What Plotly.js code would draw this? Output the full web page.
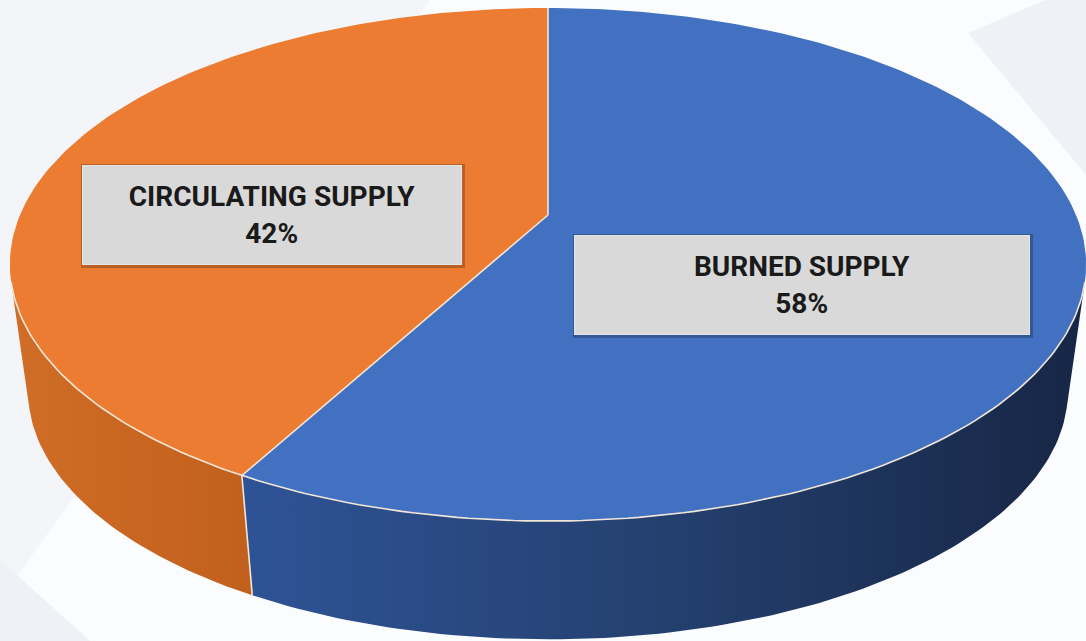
<!DOCTYPE html>
<html>
<head>
<meta charset="utf-8">
<script src="https://cdn.plot.ly/plotly-3.0.1.min.js"></script>
<style>html,body{margin:0;padding:0;background:#fff;}#chart{width:1086px;height:641px;}</style>
</head>
<body>
<div id="chart"></div>
<script>
// ---- data (clockwise from 12 o'clock) ----
const labels = ['BURNED SUPPLY', 'CIRCULATING SUPPLY'];
const values = [58, 42];
const topColors = ['#4371c1', '#ec7c31'];
const wallScales = [
  [[0, '#2e5396'], [0.5, '#24406f'], [1, '#172645']],
  [[0, '#d06d26'], [1, '#c1601d']]
];

// ---- projection of a tilted cylinder (perspective) ----
const CX = 548, AY = 215, R = 528, B = 247, K = 0.193;
const VY = 4000, F = 0.966;   // vertical vanishing point and bottom-face scale
function proj(phiDeg, bottom) {
  const p = phiDeg * Math.PI / 180;
  const u = Math.sin(p), v = -Math.cos(p);
  const s = 1 / (1 - K * v);
  let x = CX + R * u * s, y = AY + B * v * s;
  if (bottom) { x = CX + (x - CX) * F; y = VY + (y - VY) * F; }
  return [x, y];
}
function arc(a0, a1, bottom) {
  const n = Math.max(2, Math.ceil(Math.abs(a1 - a0)));
  const xs = [], ys = [];
  for (let i = 0; i <= n; i++) {
    const [x, y] = proj(a0 + (a1 - a0) * i / n, bottom);
    xs.push(x); ys.push(y);
  }
  return [xs, ys];
}
// silhouette: tangent from the vanishing point
function tangent(lo, hi) {
  let best = lo, bv = -1;
  for (let a = lo; a <= hi; a += 0.1) {
    const [x, y] = proj(a, false);
    const r = Math.abs(x - CX) / (VY - y);
    if (r > bv) { bv = r; best = a; }
  }
  return best;
}
const phiR = tangent(0, 180);
const phiL = tangent(180, 360);

const total = values.reduce((a, b) => a + b, 0);
const bounds = [];
let acc = 0;
values.forEach(v => { const a0 = acc / total * 360; acc += v; bounds.push([a0, acc / total * 360]); });

const traces = [];
// side walls
bounds.forEach(([a0, a1], i) => {
  const s0 = Math.max(a0, phiR), s1 = Math.min(a1, phiL);
  if (s1 <= s0) return;
  const [tx, ty] = arc(s0, s1, false);
  const [bx, by] = arc(s1, s0, true);
  traces.push({
    type: 'scatter', mode: 'lines', x: tx.concat(bx), y: ty.concat(by),
    fill: 'toself', line: {width: 0, color: wallScales[i][0][1]},
    fillgradient: {type: 'horizontal', colorscale: wallScales[i]},
    hoverinfo: 'skip', showlegend: false
  });
});
// top faces
bounds.forEach(([a0, a1], i) => {
  const [ax, ay] = arc(a0, a1, false);
  traces.push({
    type: 'scatter', mode: 'lines', x: [CX].concat(ax, [CX]), y: [AY].concat(ay, [AY]),
    fill: 'toself', fillcolor: topColors[i], line: {width: 0, color: topColors[i]},
    hoverinfo: 'skip', showlegend: false
  });
});
// edge highlights
const edge = {color: '#f2e6d8', width: 1.6};
const [rx, ry] = arc(phiR, phiL, false);
traces.push({type: 'scatter', mode: 'lines', x: rx, y: ry, line: edge, hoverinfo: 'skip', showlegend: false});
bounds.forEach(([a0]) => {
  const [px, py] = proj(a0, false);
  traces.push({type: 'scatter', mode: 'lines', x: [CX, px], y: [AY, py], line: edge, hoverinfo: 'skip', showlegend: false});
  if (a0 > phiR && a0 < phiL) {
    const [qx, qy] = proj(a0, true);
    traces.push({type: 'scatter', mode: 'lines', x: [px, qx], y: [py, qy], line: edge, hoverinfo: 'skip', showlegend: false});
  }
});

// ---- labels ----
const boxes = [
  {cx: 802, cy: 285, w: 454, h: 98},
  {cx: 272, cy: 215, w: 378, h: 98}
];
const annotations = [], shapes = [
  {type: 'path', layer: 'below', xref: 'x', yref: 'y', path: 'M0,0 L430,0 L0,600 Z', fillcolor: '#f3f5f9', line: {width: 0}},
  {type: 'path', layer: 'below', xref: 'x', yref: 'y', path: 'M968,33 L1045,0 L1086,0 L1086,175 Z', fillcolor: '#eff1f6', line: {width: 0}},
  {type: 'path', layer: 'below', xref: 'x', yref: 'y', path: 'M0,560 L90,641 L0,641 Z', fillcolor: '#eff1f6', line: {width: 0}}
];
labels.forEach((lab, i) => {
  const b = boxes[i];
  shapes.push({type: 'rect', layer: 'above', xref: 'x', yref: 'y',
    x0: b.cx - b.w / 2 - 2, x1: b.cx + b.w / 2 + 4, y0: b.cy - b.h / 2 - 2, y1: b.cy + b.h / 2 + 4,
    fillcolor: 'rgba(0,0,0,0.22)', line: {width: 0}});
  const pct = Math.round(values[i] / total * 100) + '%';
  annotations.push({
    x: b.cx, y: b.cy, xref: 'x', yref: 'y', xanchor: 'center', yanchor: 'middle',
    showarrow: false, width: b.w, height: b.h, borderpad: 0,
    bgcolor: '#d9d9d9', bordercolor: '#e6e6e6', borderwidth: 1,
    text: '<b>' + lab + '</b><br><b>' + pct + '</b>',
    font: {family: 'Roboto, "Open Sans", sans-serif', size: 28, color: '#1a1a1a'},
    align: 'center'
  });
});

const layout = {
  width: 1086, height: 641,
  margin: {l: 0, r: 0, t: 0, b: 0},
  paper_bgcolor: '#fbfcfd', plot_bgcolor: 'rgba(0,0,0,0)',
  xaxis: {range: [0, 1086], visible: false, fixedrange: true},
  yaxis: {range: [641, 0], visible: false, fixedrange: true},
  showlegend: false,
  shapes: shapes,
  annotations: annotations
};
Plotly.newPlot('chart', traces, layout, {displayModeBar: false, staticPlot: true});
</script>
</body>
</html>
